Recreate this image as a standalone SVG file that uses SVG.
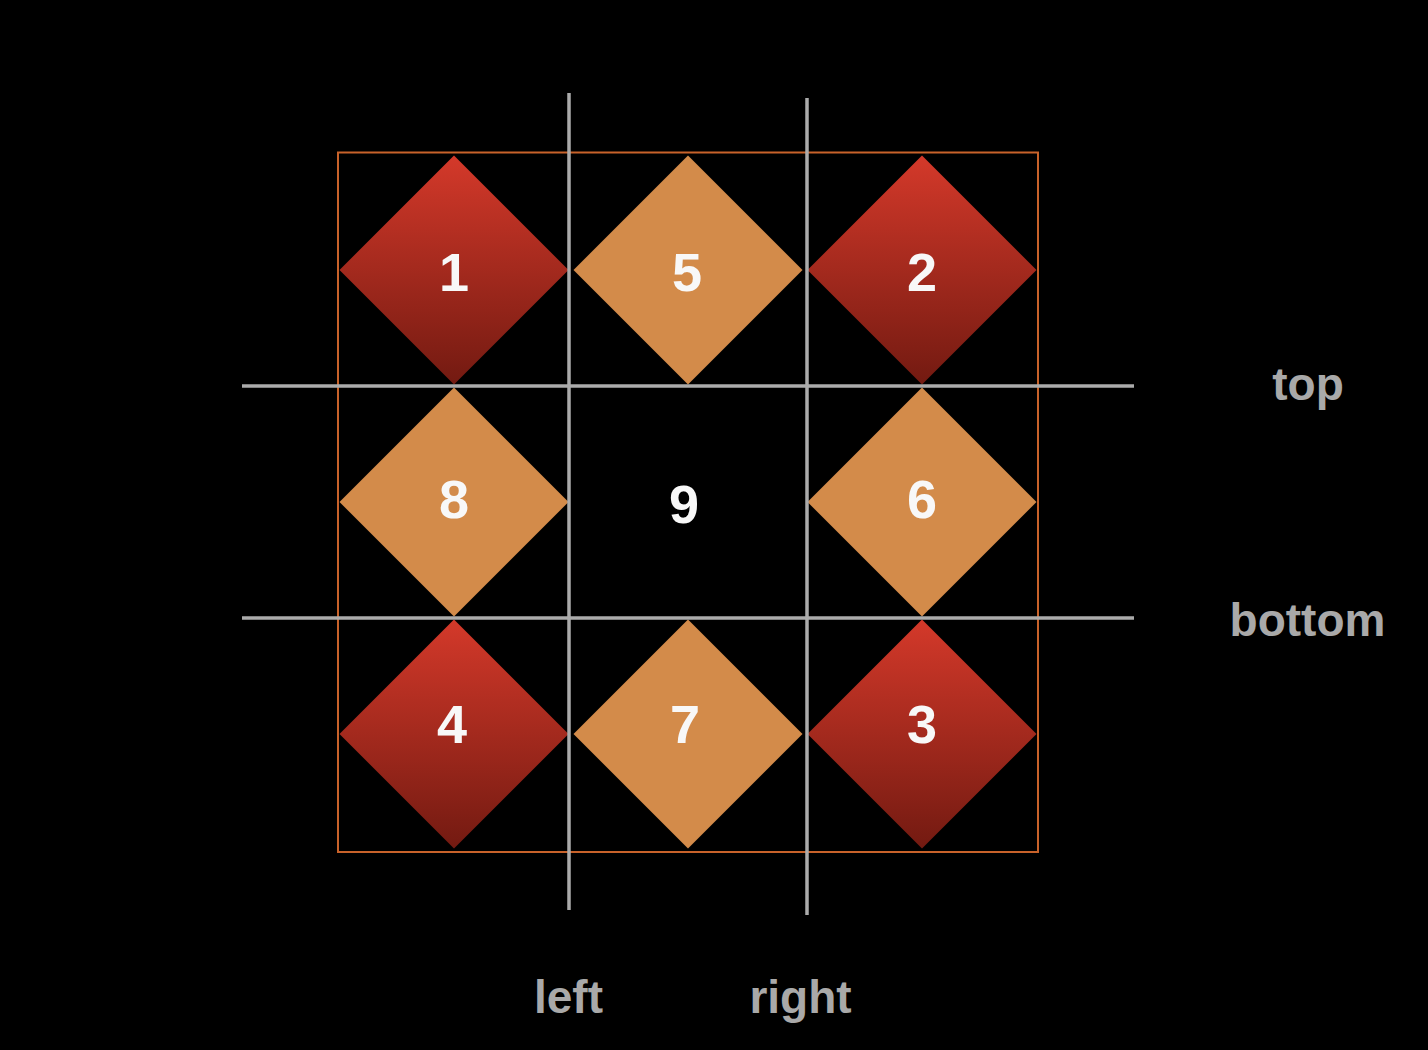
<svg xmlns="http://www.w3.org/2000/svg" width="1428" height="1050" viewBox="0 0 1428 1050">
<defs>
<linearGradient id="red" x1="0" y1="0" x2="0" y2="1">
<stop offset="0" stop-color="#d4392a"/>
<stop offset="1" stop-color="#731a11"/>
</linearGradient>
<path id="dia" d="M0,-114.5 L114.5,0 L0,114.5 L-114.5,0 Z"/>
</defs>
<style>
.red{fill:url(#red)}
.org{fill:#d38b4a}
.num{font-family:"Liberation Sans",Arial,sans-serif;font-weight:bold;font-size:54px;fill:#f8f8f8;text-anchor:middle}
.lbl{font-family:"Liberation Sans",Arial,sans-serif;font-weight:bold;font-size:46px;fill:#a9a9a9;text-anchor:middle}
.grid{stroke:#ababab;stroke-width:3.5;fill:none}
</style>
<rect width="1428" height="1050" fill="#000000"/>
<rect id="frame" x="338" y="152.5" width="700" height="699.5" fill="none" stroke="#c8622a" stroke-width="2"/>
<g id="n1"><use href="#dia" class="red" x="454" y="270"/><text class="num" x="454" y="291">1</text></g>
<g id="n5"><use href="#dia" class="org" x="688" y="270"/><text class="num" x="687" y="291">5</text></g>
<g id="n2"><use href="#dia" class="red" x="922" y="270"/><text class="num" x="922" y="291">2</text></g>
<g id="n8"><use href="#dia" class="org" x="454" y="502"/><text class="num" x="454" y="518">8</text></g>
<g id="n9"><text class="num" x="684" y="523">9</text></g>
<g id="n6"><use href="#dia" class="org" x="922" y="502"/><text class="num" x="922" y="518">6</text></g>
<g id="n4"><use href="#dia" class="red" x="454" y="734"/><text class="num" x="452" y="743">4</text></g>
<g id="n7"><use href="#dia" class="org" x="688" y="734"/><text class="num" x="685" y="743">7</text></g>
<g id="n3"><use href="#dia" class="red" x="922" y="734"/><text class="num" x="922" y="743">3</text></g>
<g id="connectors">
<line class="grid" x1="569" y1="93" x2="569" y2="910"/>
<line class="grid" x1="807" y1="98" x2="807" y2="915"/>
<line class="grid" x1="242" y1="386" x2="1134" y2="386"/>
<line class="grid" x1="242" y1="618" x2="1134" y2="618"/>
</g>
<g id="labels">
<text class="lbl" x="1308" y="400">top</text>
<text class="lbl" x="1307.5" y="636">bottom</text>
<text class="lbl" x="568.5" y="1013">left</text>
<text class="lbl" x="800.5" y="1013">right</text>
</g>
</svg>
